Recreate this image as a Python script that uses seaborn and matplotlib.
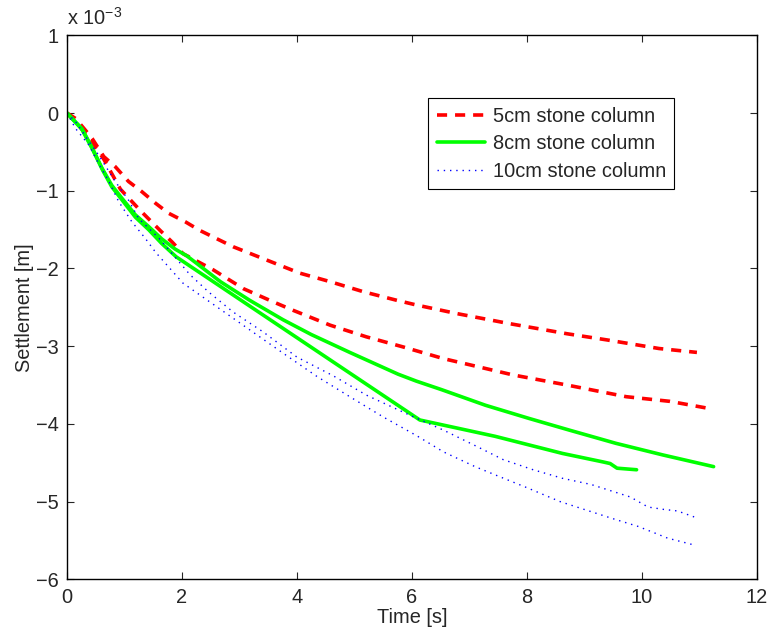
import numpy as np
import pandas as pd
import seaborn as sns
import matplotlib
matplotlib.use("Agg")
import matplotlib.pyplot as plt
from matplotlib.ticker import FuncFormatter

# settlement values are read in units of 1e-3 m
# 5cm stone column, two runs
t_5a = [0, 0.15, 0.32, 0.44, 0.64, 0.84, 1.07, 1.30, 1.54, 1.77, 2.06, 2.31, 2.89, 3.47, 4.05, 4.58,
        5.16, 5.74, 6.08, 6.78, 7.70, 8.70, 9.40, 10.30, 10.96]
y_5a = [0, -0.07, -0.22, -0.33, -0.56, -0.69, -0.88, -1.01, -1.16, -1.29, -1.40, -1.51, -1.72, -1.89,
        -2.06, -2.17, -2.30, -2.41, -2.47, -2.58, -2.71, -2.84, -2.92, -3.03, -3.08]
t_5b = [0, 0.23, 0.63, 0.93, 1.27, 1.62, 1.83, 2.02, 2.55, 3.07, 3.59, 3.94, 4.58, 5.21, 5.85, 6.55,
        7.76, 8.70, 9.73, 10.49, 11.16]
y_5b = [0, -0.18, -0.58, -0.98, -1.25, -1.51, -1.66, -1.81, -2.02, -2.26, -2.43, -2.54, -2.73, -2.88,
        -3.01, -3.16, -3.37, -3.50, -3.65, -3.71, -3.80]

# 8cm stone column, two runs
t_8a = [0, 0.26, 0.44, 0.61, 0.78, 0.96, 1.19, 1.42, 1.65, 1.88, 2.09, 2.67, 3.18, 3.76, 4.25, 4.92,
        5.10, 5.76, 6.08, 6.52, 7.28, 8.04, 8.74, 9.55, 10.37, 11.25]
y_8a = [0, -0.20, -0.45, -0.71, -0.93, -1.10, -1.31, -1.46, -1.62, -1.75, -1.84, -2.17, -2.41, -2.66,
        -2.85, -3.08, -3.14, -3.36, -3.45, -3.56, -3.76, -3.93, -4.08, -4.25, -4.40, -4.55]
t_8b = [0, 0.26, 0.44, 0.61, 0.78, 0.96, 1.19, 1.42, 1.65, 1.90, 6.14, 7.45, 8.62, 9.33, 9.45, 9.57,
        9.91]
y_8b = [0, -0.21, -0.46, -0.72, -0.95, -1.12, -1.34, -1.50, -1.68, -1.85, -3.95, -4.16, -4.38, -4.49,
        -4.51, -4.57, -4.59]

# 10cm stone column, two runs
t_10a = [0, 0.15, 0.35, 0.55, 0.84, 1.07, 1.25, 1.60, 2.14, 2.46, 2.89, 3.42, 4.00, 4.63, 5.21, 5.97,
         6.55, 7.13, 7.59, 8.11, 8.62, 9.12, 9.80, 10.11, 10.38, 10.62, 10.96]
y_10a = [0, -0.11, -0.33, -0.54, -0.88, -1.12, -1.36, -1.61, -2.08, -2.30, -2.56, -2.82, -3.14, -3.38,
         -3.63, -3.89, -4.08, -4.29, -4.46, -4.59, -4.70, -4.78, -4.94, -5.07, -5.10, -5.12, -5.21]
t_10b = [0, 0.15, 0.38, 0.55, 0.73, 0.90, 1.13, 1.36, 1.54, 2.02, 2.60, 3.18, 3.76, 4.35, 4.92, 5.50,
         6.08, 6.55, 7.10, 7.53, 8.00, 8.58, 9.08, 9.50, 9.94, 10.45, 10.92]
y_10b = [0, -0.20, -0.41, -0.65, -0.88, -1.14, -1.40, -1.61, -1.79, -2.19, -2.49, -2.79, -3.09, -3.39,
         -3.65, -3.91, -4.15, -4.36, -4.55, -4.68, -4.82, -5.00, -5.12, -5.22, -5.32, -5.47, -5.56]

labels = ["5cm stone column", "8cm stone column", "10cm stone column"]

FS = 14.4
sns.set_theme(style="ticks")
plt.rcParams["font.family"] = ["Liberation Sans", "DejaVu Sans"]
plt.rcParams["mathtext.default"] = "regular"
plt.rcParams["font.size"] = FS

fig, ax = plt.subplots(figsize=(7.68, 6.31), dpi=100)
fig.subplots_adjust(left=0.0872, right=0.9853, bottom=0.0819, top=0.944)

runs = [
    (t_5a, y_5a, labels[0], "#ff0000", (0, (2.8, 2.2)), 2.6),
    (t_5b, y_5b, None, "#ff0000", (0, (2.8, 2.2)), 2.6),
    (t_8a, y_8a, labels[1], "#00ff00", "-", 2.6),
    (t_8b, y_8b, None, "#00ff00", "-", 2.6),
    (t_10a, y_10a, labels[2], "#0000ff", (0, (1, 3.5)), 1.0),
    (t_10b, y_10b, None, "#0000ff", (0, (1, 3.5)), 1.0),
]
for t, y, lab, col, ls, lw in runs:
    df = pd.DataFrame({"t": t, "s": np.array(y) * 1e-3})
    sns.lineplot(data=df, x="t", y="s", ax=ax, color=col, linestyle=ls, linewidth=lw,
                 label=lab, legend=False)

ax.set_xlim(0, 12)
ax.set_ylim(-6e-3, 1e-3)
ax.set_xticks(np.arange(0, 13, 2))
ax.set_yticks(np.arange(-6, 2) * 1e-3)
ax.xaxis.set_major_formatter(FuncFormatter(lambda v, p: f"{int(round(v))}"))
ax.yaxis.set_major_formatter(FuncFormatter(lambda v, p: f"{int(round(v * 1e3))}".replace("-", "\u2212")))
ax.tick_params(direction="in", length=5, width=0.8, top=True, right=True, labelsize=FS, pad=6)
for sp in ax.spines.values():
    sp.set_linewidth(1.0)
    sp.set_color("black")
ax.set_xlabel("Time [s]", fontsize=FS, labelpad=1)
ax.set_ylabel("Settlement [m]", fontsize=FS, labelpad=1)
ax.text(0, 1.012, "x 10$^{\u22123}$", transform=ax.transAxes, va="bottom", ha="left", fontsize=FS)

leg = ax.legend(loc="upper left", bbox_to_anchor=(0.524, 0.884), borderaxespad=0, fancybox=False,
                framealpha=1, edgecolor="black", fontsize=FS, handlelength=2.4,
                handletextpad=0.39, labelspacing=0.42, borderpad=0.42)
leg.get_frame().set_linewidth(0.8)

fig.savefig("out.png", dpi=100)
